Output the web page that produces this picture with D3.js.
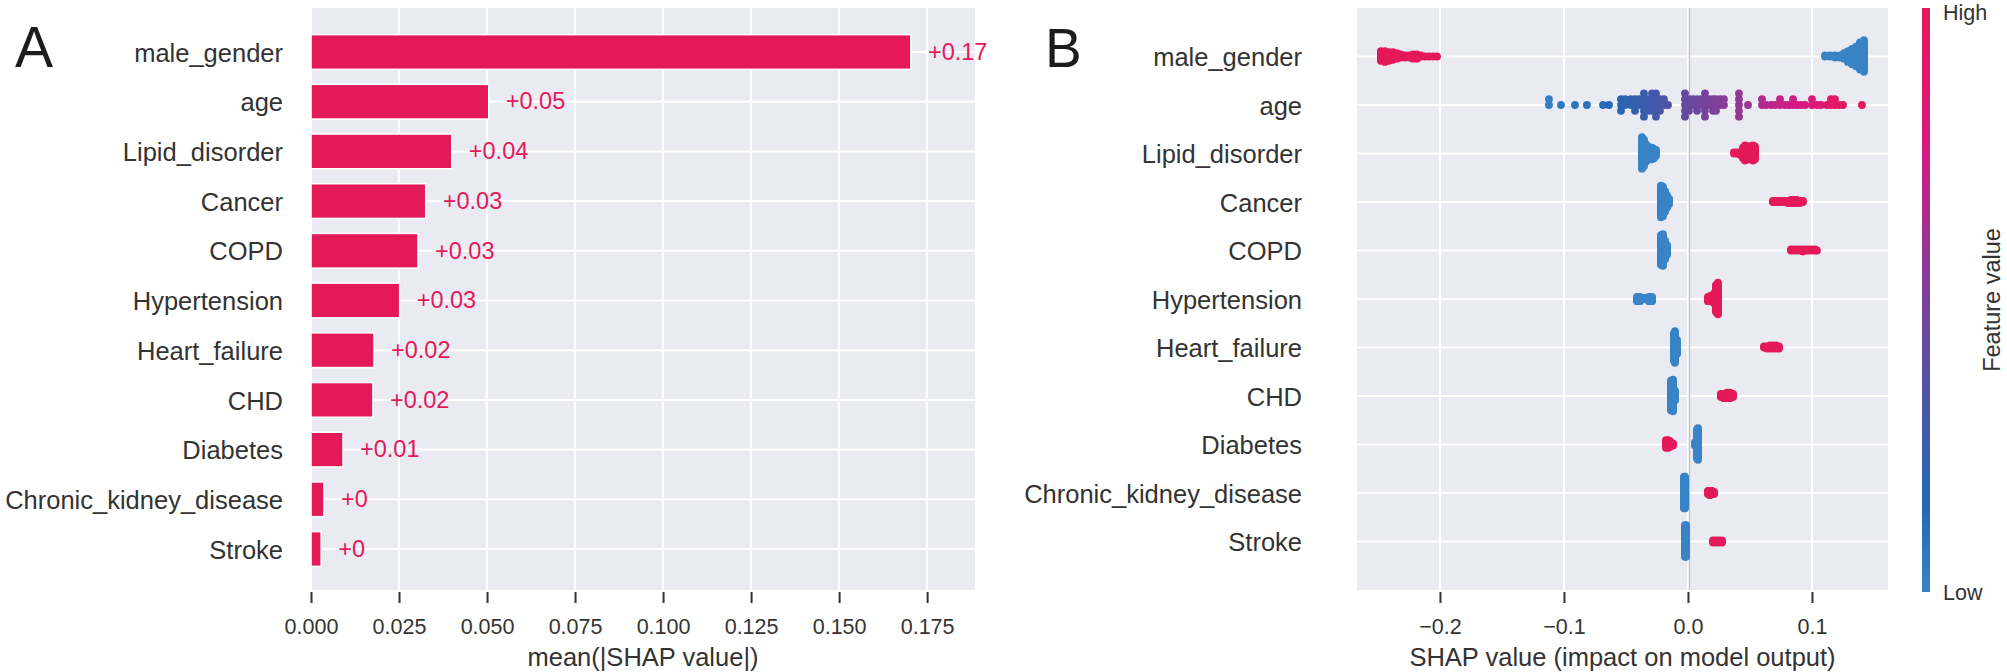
<!DOCTYPE html>
<html>
<head>
<meta charset="utf-8">
<script src="https://d3js.org/d3.v7.min.js"></script>
<style>
  body { margin: 0; background: #ffffff; }
  svg text { font-family: "Liberation Sans", Arial, Helvetica, sans-serif; }
</style>
</head>
<body>
<div id="chart"></div>
<script>
"use strict";

// ---- data ----
var FEATURES = ["male_gender", "age", "Lipid_disorder", "Cancer", "COPD", "Hypertension",
                "Heart_failure", "CHD", "Diabetes", "Chronic_kidney_disease", "Stroke"];

// panel A: mean(|SHAP value|)
var MEAN_ABS_SHAP = [0.1704, 0.0505, 0.0400, 0.0326, 0.0304, 0.0252, 0.0179, 0.0176, 0.0091, 0.0037, 0.0029];
var BAR_TICKS = [0, 0.025, 0.05, 0.075, 0.1, 0.125, 0.15, 0.175];

// panel B: [shap value, number of points, feature value (0 low .. 1 high)]
var SWARM_MALE_GENDER = [
  [-0.2476, 10, 1], [-0.2444, 11, 1], [-0.2411, 9, 1], [-0.2379, 8, 1], [-0.2347, 6, 1],
  [-0.2315, 4, 1], [-0.2282, 3, 1], [-0.2250, 3, 1], [-0.2218, 5, 1], [-0.2185, 5, 1],
  [-0.2153, 2, 1], [-0.2121, 1, 1], [-0.2089, 1, 1], [-0.2056, 1, 1], [-0.2024, 1, 1],
  [0.1105, 2, 0], [0.1145, 2, 0], [0.1185, 3, 0], [0.1226, 3, 0], [0.1258, 6, 0],
  [0.1290, 11, 0], [0.1323, 15, 0], [0.1355, 19, 0], [0.1387, 26, 0], [0.1419, 30, 0]
];
var SWARM_AGE = [
  [-0.1121, 2, 0.03], [-0.1024, 1, 0.05], [-0.0911, 1, 0.08], [-0.0815, 1, 0.10],
  [-0.0685, 1, 0.13], [-0.0637, 1, 0.14], [-0.0540, 3, 0.18], [-0.0508, 2, 0.19],
  [-0.0460, 2, 0.21], [-0.0427, 3, 0.22], [-0.0395, 2, 0.23], [-0.0355, 5, 0.26],
  [-0.0323, 3, 0.27], [-0.0290, 4, 0.28], [-0.0258, 5, 0.30], [-0.0226, 3, 0.32],
  [-0.0194, 2, 0.33], [-0.0161, 1, 0.34], [-0.0024, 5, 0.42], [0.0008, 3, 0.43],
  [0.0040, 2, 0.44], [0.0073, 3, 0.45], [0.0105, 2, 0.46], [0.0137, 5, 0.48],
  [0.0169, 2, 0.49], [0.0202, 3, 0.50], [0.0226, 3, 0.51], [0.0258, 2, 0.52],
  [0.0290, 2, 0.53], [0.0411, 5, 0.58], [0.0484, 1, 0.60], [0.0597, 2, 0.65],
  [0.0629, 1, 0.66], [0.0669, 1, 0.68], [0.0702, 1, 0.69], [0.0742, 2, 0.70],
  [0.0782, 1, 0.72], [0.0815, 1, 0.73], [0.0847, 2, 0.74], [0.0879, 1, 0.76],
  [0.0911, 1, 0.77], [0.0944, 1, 0.78], [0.1000, 2, 0.80], [0.1040, 1, 0.83],
  [0.1073, 1, 0.84], [0.1121, 1, 0.88], [0.1153, 2, 0.89], [0.1185, 2, 0.91],
  [0.1218, 1, 0.92], [0.1250, 1, 0.94], [0.1403, 1, 1.0]
];
var SWARM_LIPID = [
  [-0.0371, 28, 0], [-0.0355, 24, 0], [-0.0339, 16, 0], [-0.0323, 12, 0], [-0.0306, 11, 0],
  [-0.0290, 11, 0], [-0.0274, 9, 0], [-0.0258, 6, 0],
  [0.0371, 2, 1], [0.0395, 2, 1], [0.0419, 3, 1], [0.0444, 10, 1], [0.0460, 14, 1],
  [0.0476, 12, 1], [0.0492, 12, 1], [0.0508, 12, 1], [0.0524, 14, 1], [0.0540, 12, 1]
];
var SWARM_CANCER = [
  [-0.0218, 30, 0], [-0.0202, 28, 0], [-0.0185, 20, 0], [-0.0169, 12, 0], [-0.0153, 6, 0],
  [0.0685, 2, 1], [0.0710, 2, 1], [0.0734, 2, 1], [0.0758, 2, 1], [0.0782, 2, 1], [0.0806, 3, 1],
  [0.0831, 4, 1], [0.0855, 4, 1], [0.0879, 4, 1], [0.0903, 3, 1], [0.0927, 2, 1]
];
var SWARM_COPD = [
  [-0.0218, 28, 0], [-0.0202, 30, 0], [-0.0185, 18, 0], [-0.0169, 10, 0],
  [0.0831, 2, 1], [0.0855, 2, 1], [0.0879, 2, 1], [0.0903, 2, 1], [0.0927, 3, 1],
  [0.0952, 2, 1], [0.0976, 2, 1], [0.1000, 2, 1], [0.1024, 2, 1], [0.1040, 1, 1]
];
var SWARM_HYPERTENSION = [
  [-0.0411, 5, 0], [-0.0387, 5, 0], [-0.0363, 2, 0], [-0.0339, 2, 0], [-0.0315, 5, 0], [-0.0290, 5, 0],
  [0.0161, 5, 1], [0.0185, 6, 1], [0.0210, 10, 1], [0.0226, 26, 1], [0.0242, 30, 1]
];
var SWARM_HEART_FAILURE = [
  [-0.0113, 26, 0], [-0.0105, 30, 0], [-0.0089, 14, 0],
  [0.0613, 2, 1], [0.0637, 3, 1], [0.0661, 4, 1], [0.0685, 4, 1], [0.0710, 4, 1], [0.0734, 3, 1]
];
var SWARM_CHD = [
  [-0.0137, 28, 0], [-0.0121, 30, 0], [-0.0105, 10, 0],
  [0.0266, 4, 1], [0.0290, 5, 1], [0.0315, 6, 1], [0.0339, 6, 1], [0.0363, 4, 1]
];
var SWARM_DIABETES = [
  [-0.0177, 8, 1], [-0.0161, 8, 1], [-0.0145, 6, 1], [-0.0121, 3, 1],
  [0.0056, 4, 0], [0.0073, 28, 0], [0.0081, 30, 0]
];
var SWARM_CKD = [
  [-0.0032, 30, 0], [-0.0024, 30, 0],
  [0.0161, 4, 1], [0.0177, 5, 1], [0.0194, 4, 1], [0.0210, 3, 1]
];
var SWARM_STROKE = [
  [-0.0024, 30, 0], [-0.0016, 30, 0],
  [0.0202, 3, 1], [0.0226, 3, 1], [0.0250, 3, 1], [0.0274, 3, 1]
];
var SWARM = [SWARM_MALE_GENDER, SWARM_AGE, SWARM_LIPID, SWARM_CANCER, SWARM_COPD, SWARM_HYPERTENSION,
             SWARM_HEART_FAILURE, SWARM_CHD, SWARM_DIABETES, SWARM_CKD, SWARM_STROKE];
var SWARM_TICKS = [-0.2, -0.1, 0, 0.1];

// feature value colour map (low -> high)
var CMAP_STOPS = [0, 0.15, 0.3, 0.45, 0.6, 0.75, 0.87, 1];
var CMAP_COLORS = ["#3884c6", "#2467b5", "#4358a8", "#6b479d", "#9b3592", "#d41a84", "#e2176c", "#e4195a"];

// ---- style ----
var WIDTH = 2007;
var HEIGHT = 672;
var BG = "#eaeaf2";
var TEXT = "#333333";
var RED = "#e4195a";
var ROW_HEIGHT = 0.4;   // shap beeswarm row height
var DOT_R = 3.9;

main();

function main() {
  var svg = d3.select("#chart").append("svg")
      .attr("width", WIDTH)
      .attr("height", HEIGHT);

  drawBars(svg);
  drawSwarm(svg);

  // panel letters
  svg.append("text").attr("x", 15).attr("y", 67).attr("font-size", 57)
      .attr("fill", "#1e1b1c").text("A");
  svg.append("text").attr("x", 1045).attr("y", 67).attr("font-size", 55)
      .attr("fill", "#1e1b1c").text("B");
}

function styleAxis(g, size) {
  g.select(".domain").remove();
  g.selectAll(".tick line").attr("stroke", TEXT).attr("stroke-width", 2);
  g.selectAll(".tick text").attr("fill", TEXT).attr("font-size", size);
}

function drawBars(svg) {
  var x = d3.scaleLinear().domain([0, 0.1886]).range([311, 975]);
  var y = d3.scaleLinear().domain([-0.885, 10.825]).range([8, 590]);
  var rowPx = y(1) - y(0);

  var plot = svg.append("g");
  plot.append("rect").attr("x", x.range()[0]).attr("y", y.range()[0])
      .attr("width", x.range()[1] - x.range()[0]).attr("height", y.range()[1] - y.range()[0])
      .attr("fill", BG);

  // grid
  plot.selectAll(".vgrid").data(BAR_TICKS).enter().append("line")
      .attr("x1", function(d) { return x(d); }).attr("x2", function(d) { return x(d); })
      .attr("y1", y.range()[0]).attr("y2", y.range()[1])
      .attr("stroke", "#ffffff").attr("stroke-width", 2);
  plot.selectAll(".hgrid").data(FEATURES).enter().append("line")
      .attr("x1", x.range()[0]).attr("x2", x.range()[1])
      .attr("y1", function(d, i) { return y(i); }).attr("y2", function(d, i) { return y(i); })
      .attr("stroke", "#ffffff").attr("stroke-width", 2);

  // bars
  plot.selectAll(".bar").data(MEAN_ABS_SHAP).enter().append("rect")
      .attr("x", x(0))
      .attr("y", function(d, i) { return y(i) - rowPx * 0.35; })
      .attr("width", function(d) { return x(d) - x(0); })
      .attr("height", rowPx * 0.7)
      .attr("fill", RED)
      .attr("stroke", "#ffffff").attr("stroke-width", 1.6);

  plot.selectAll(".barlabel").data(MEAN_ABS_SHAP).enter().append("text")
      .attr("x", function(d) { return x(d) + 17; })
      .attr("y", function(d, i) { return y(i); })
      .attr("dy", "0.33em")
      .attr("font-size", 23.5)
      .attr("fill", RED)
      .text(formatBarValue);

  // axes
  svg.append("g").attr("transform", "translate(0,592)")
      .call(d3.axisBottom(x).tickValues(BAR_TICKS).tickFormat(d3.format(".3f"))
            .tickSize(11).tickPadding(16).tickSizeOuter(0))
      .call(styleAxis, 21.5);

  var yAxis = svg.append("g").attr("transform", "translate(" + x.range()[0] + ",0)")
      .call(d3.axisLeft(y).tickValues(d3.range(FEATURES.length))
            .tickFormat(function(i) { return FEATURES[i]; })
            .tickSize(0).tickPadding(28))
      .call(styleAxis, 25.5);
  yAxis.selectAll(".tick text").attr("dy", "0.36em");

  svg.append("text")
      .attr("x", (x.range()[0] + x.range()[1]) / 2).attr("y", 666)
      .attr("text-anchor", "middle").attr("font-size", 25.5).attr("fill", TEXT)
      .text("mean(|SHAP value|)");
}

function formatBarValue(v) {
  return d3.format("+.2f")(v).replace(/\.?0+$/, "");
}

// same layering as shap's beeswarm: each bin stacks its points alternately up/down
function layoutSwarm(entries) {
  var pts = [];
  entries.forEach(function(e) {
    for (var k = 0; k < e[1]; k++) {
      pts.push({ shap: e[0], fv: e[2], layer: Math.ceil(k / 2) * ((k % 2) * 2 - 1) });
    }
  });
  var top = d3.max(pts, function(p) { return p.layer + 1; });
  pts.forEach(function(p) { p.offset = p.layer * 0.9 * (ROW_HEIGHT / top); });
  return pts;
}

function drawSwarm(svg) {
  var x = d3.scaleLinear().domain([-0.2669, 0.1613]).range([1357, 1888]);
  var y = d3.scaleLinear().domain([-1, 11]).range([8, 590]);
  var color = d3.scaleLinear().domain(CMAP_STOPS).range(CMAP_COLORS);

  var plot = svg.append("g");
  plot.append("rect").attr("x", x.range()[0]).attr("y", y.range()[0])
      .attr("width", x.range()[1] - x.range()[0]).attr("height", y.range()[1] - y.range()[0])
      .attr("fill", BG);

  plot.selectAll(".vgrid").data(SWARM_TICKS).enter().append("line")
      .attr("x1", function(d) { return x(d); }).attr("x2", function(d) { return x(d); })
      .attr("y1", y.range()[0]).attr("y2", y.range()[1])
      .attr("stroke", "#ffffff").attr("stroke-width", 2);
  plot.selectAll(".hgrid").data(FEATURES).enter().append("line")
      .attr("x1", x.range()[0]).attr("x2", x.range()[1])
      .attr("y1", function(d, i) { return y(i); }).attr("y2", function(d, i) { return y(i); })
      .attr("stroke", "#ffffff").attr("stroke-width", 2);
  // zero line
  plot.append("line")
      .attr("x1", x(0) + 1.5).attr("x2", x(0) + 1.5)
      .attr("y1", y.range()[0]).attr("y2", y.range()[1])
      .attr("stroke", "#bdbdc2").attr("stroke-width", 1.3);

  SWARM.forEach(function(entries, row) {
    var pts = layoutSwarm(entries);
    plot.append("g").selectAll("circle").data(pts).enter().append("circle")
        .attr("cx", function(p) { return x(p.shap); })
        .attr("cy", function(p) { return y(row - p.offset); })
        .attr("r", DOT_R)
        .attr("fill", function(p) { return color(p.fv); });
  });

  svg.append("g").attr("transform", "translate(0,592)")
      .call(d3.axisBottom(x).tickValues(SWARM_TICKS).tickFormat(d3.format(".1f"))
            .tickSize(11).tickPadding(16).tickSizeOuter(0))
      .call(styleAxis, 21.5);

  var yAxis = svg.append("g").attr("transform", "translate(" + x.range()[0] + ",0)")
      .call(d3.axisLeft(y).tickValues(d3.range(FEATURES.length))
            .tickFormat(function(i) { return FEATURES[i]; })
            .tickSize(0).tickPadding(55))
      .call(styleAxis, 25.5);
  yAxis.selectAll(".tick text").attr("dy", "0.36em");

  svg.append("text")
      .attr("x", (x.range()[0] + x.range()[1]) / 2).attr("y", 666)
      .attr("text-anchor", "middle").attr("font-size", 25.5).attr("fill", TEXT)
      .text("SHAP value (impact on model output)");

  // colour bar
  var cb = d3.scaleLinear().domain([0, 1]).range([592, 8]);
  var grad = svg.append("defs").append("linearGradient")
      .attr("id", "cmap").attr("x1", 0).attr("y1", 1).attr("x2", 0).attr("y2", 0);
  grad.selectAll("stop").data(CMAP_STOPS).enter().append("stop")
      .attr("offset", function(d) { return d; })
      .attr("stop-color", function(d, i) { return CMAP_COLORS[i]; });
  svg.append("rect").attr("x", 1922).attr("y", cb(1)).attr("width", 8)
      .attr("height", cb(0) - cb(1)).attr("fill", "url(#cmap)");
  svg.append("text").attr("x", 1943).attr("y", cb(0))
      .attr("dy", "0.38em").attr("font-size", 21.5).attr("fill", TEXT).text("Low");
  svg.append("text").attr("x", 1943).attr("y", 20)
      .attr("font-size", 21.5).attr("fill", TEXT).text("High");
  svg.append("text")
      .attr("transform", "translate(2000," + (cb(0) + cb(1)) / 2 + ") rotate(-90)")
      .attr("text-anchor", "middle").attr("font-size", 23.5).attr("fill", TEXT)
      .text("Feature value");
}
</script>
</body>
</html>
